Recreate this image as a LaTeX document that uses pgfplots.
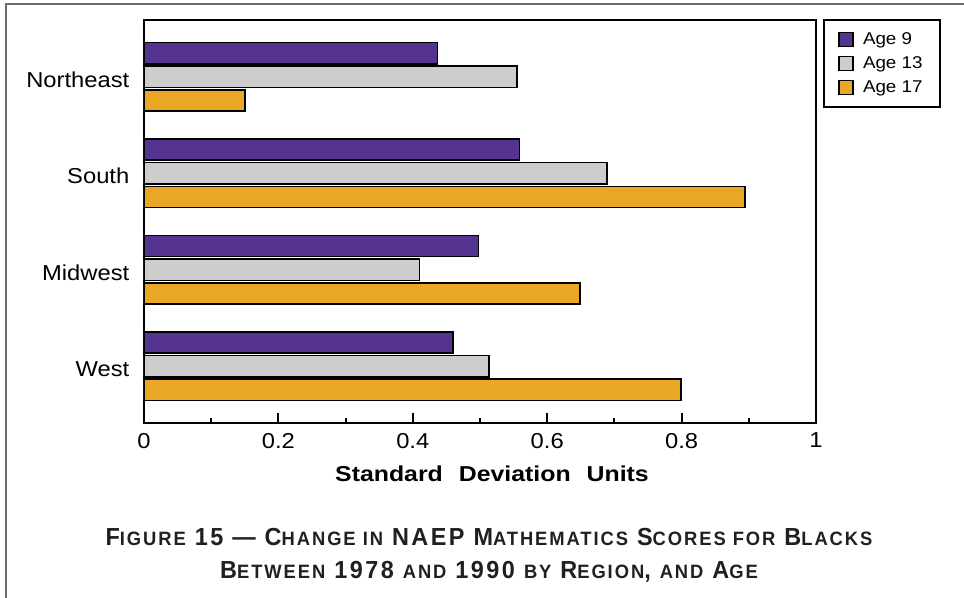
\documentclass[border=0pt]{standalone}
\usepackage{pgfplots}
\pgfplotsset{compat=1.18}
\usepackage{fontspec}
\setmainfont{Liberation Sans}[FakeStretch=1.1]
\newfontfamily\labfont{Liberation Sans Bold}[FakeStretch=1.15]
\newfontfamily\capfont{Liberation Sans Bold}[FakeStretch=0.95, LetterSpace=10]
\definecolor{c9}{RGB}{85,51,145}
\definecolor{c13}{RGB}{205,206,204}
\definecolor{c17}{RGB}{233,168,35}
\definecolor{framec}{RGB}{110,110,110}
\definecolor{capc}{RGB}{35,31,32}
\newcommand{\sm}[1]{{\fontsize{14.5}{16}\selectfont #1}}
\begin{document}
\begin{tikzpicture}
\useasboundingbox (0,0) rectangle (723pt,-448.5pt);
\draw[framec, line width=1.5pt] (4.5pt,-448.5pt) -- (4.5pt,-3pt) -- (723pt,-3pt);
\begin{axis}[
  at={(108pt,-317.25pt)}, anchor=south west,
  scale only axis, width=504pt, height=302.25pt,
  xbar, y dir=reverse,
  xmin=0, xmax=1, ymin=-0.59, ymax=3.59,
  bar width=0.22,
  axis line style={line width=2pt},
  ytick={0,1,2,3}, yticklabels={Northeast,South,Midwest,West},
  ytick style={draw=none},
  xtick={0,0.2,0.4,0.6,0.8,1}, xticklabels={0,0.2,0.4,0.6,0.8,1},
  minor xtick={0.1,0.3,0.5,0.7,0.9},
  xtick pos=bottom, tick align=inside,
  xtick style={line width=1.5pt, black},
  major tick length=7.5pt, minor tick length=3.75pt,
  /pgf/number format/assume math mode=true,
  tick label style={font=\fontsize{16.2}{18}\selectfont},
  yticklabel style={xshift=-7.5pt, yshift=-2pt},
  xticklabel style={yshift=-4pt},
  xlabel={\labfont\fontsize{16.2}{18}\selectfont Standard\hspace{12pt}Deviation\hspace{12pt}Units},
  xlabel style={yshift=-6pt, xshift=9pt},
  legend style={at={(1,1)}, anchor=north west, xshift=5pt, yshift=0.5pt, draw=black, line width=1.5pt,
    font=\fontsize{12.8}{15}\selectfont, row sep=3.5pt, column sep=5pt,
    inner xsep=11pt, inner ysep=7.5pt,
    cells={anchor=west}},
  legend image code/.code={\draw[#1, line width=1pt] (0pt,-5pt) rectangle (10.5pt,5.5pt);},
]
\addplot[fill=c9, draw=black, line width=1.2pt, bar shift=-0.245] coordinates {(0.437,0) (0.559,1) (0.498,2) (0.460,3)};
\addplot[fill=c13, draw=black, line width=1.2pt, bar shift=0] coordinates {(0.555,0) (0.689,1) (0.410,2) (0.513,3)};
\addplot[fill=c17, draw=black, line width=1.2pt, bar shift=0.245] coordinates {(0.150,0) (0.894,1) (0.649,2) (0.799,3)};
\addlegendentry{Age 9}
\addlegendentry{Age 13}
\addlegendentry{Age 17}
\end{axis}
\node[anchor=base, capc, font=\capfont\fontsize{18.5}{20}\selectfont] at (366.75pt,-408.75pt)
  {F\sm{IGURE} 15 — C\sm{HANGE IN} NAEP M\sm{ATHEMATICS} S\sm{CORES FOR} B\sm{LACKS}};
\node[anchor=base, capc, font=\capfont\fontsize{18.5}{20}\selectfont] at (366.75pt,-433.5pt)
  {B\sm{ETWEEN} 1978 \sm{AND} 1990 \sm{BY} R\sm{EGION}, \sm{AND} A\sm{GE}};
\end{tikzpicture}
\end{document}
